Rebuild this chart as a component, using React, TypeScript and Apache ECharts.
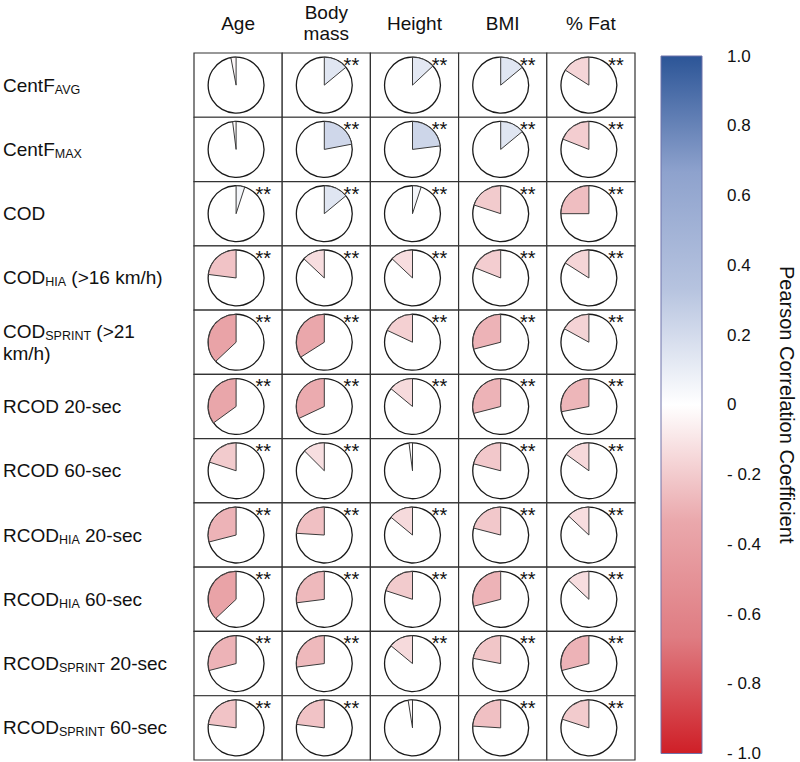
import React, { useEffect, useRef } from 'react';
import * as echarts from 'echarts';

const FONT = '"Liberation Sans", Arial, sans-serif';

const columns = ['Age', 'Body\nmass', 'Height', 'BMI', '% Fat'];

const rowLabels = [
  'CentF{s|AVG}',
  'CentF{s|MAX}',
  'COD',
  'COD{s|HIA} (>16 km/h)',
  'COD{s|SPRINT} (>21\nkm/h)',
  'RCOD 20-sec',
  'RCOD 60-sec',
  'RCOD{s|HIA} 20-sec',
  'RCOD{s|HIA} 60-sec',
  'RCOD{s|SPRINT} 20-sec',
  'RCOD{s|SPRINT} 60-sec',
];

// Pearson r per row (Age, Body mass, Height, BMI, % Fat)
const rCentFAvg = [-0.03, 0.14, 0.13, 0.14, -0.16];
const rCentFMax = [-0.02, 0.22, 0.23, 0.14, -0.19];
const rCod = [0.05, 0.14, 0.05, -0.2, -0.25];
const rCodHia = [-0.23, -0.13, -0.13, -0.19, -0.16];
const rCodSprint = [-0.37, -0.34, -0.18, -0.29, -0.17];
const rRcod20 = [-0.35, -0.32, -0.14, -0.29, -0.28];
const rRcod60 = [-0.2, -0.125, -0.02, -0.21, -0.15];
const rRcodHia20 = [-0.29, -0.24, -0.14, -0.21, -0.13];
const rRcodHia60 = [-0.37, -0.27, -0.2, -0.29, -0.13];
const rRcodSprint20 = [-0.29, -0.27, -0.14, -0.22, -0.29];
const rRcodSprint60 = [-0.23, -0.23, -0.025, -0.24, -0.2];

const values = [
  rCentFAvg, rCentFMax, rCod, rCodHia, rCodSprint, rRcod20,
  rRcod60, rRcodHia20, rRcodHia60, rRcodSprint20, rRcodSprint60,
];

// 1 = "**" shown
const signif = [
  [0, 1, 1, 1, 1],
  [0, 1, 1, 1, 1],
  [1, 1, 1, 1, 1],
  [1, 1, 1, 1, 1],
  [1, 1, 1, 1, 1],
  [1, 1, 1, 1, 1],
  [1, 1, 0, 1, 1],
  [1, 1, 1, 1, 1],
  [1, 1, 1, 1, 1],
  [1, 1, 1, 1, 1],
  [1, 1, 0, 1, 1],
];

const scaleMin = -1;
const scaleMax = 1;
const scaleStep = 0.2;
// evenly spaced colour stops from -1 to 1
const scaleColors = ['#cf1f27', '#df7c82', '#eaa8ac', '#ffffff', '#b6c3df', '#8ea2cd', '#2c5597'];

const colorbarTitle = 'Pearson Correlation Coefficient';

export default function App() {
  const ref = useRef<HTMLDivElement>(null);

  useEffect(() => {
    if (!ref.current) return;
    const chart = echarts.init(ref.current, undefined, { renderer: 'svg' });

    const cells: number[][] = [];
    values.forEach((row, i) =>
      row.forEach((v, j) => cells.push([j, i, v, signif[i][j]]))
    );

    const stops = scaleColors
      .slice()
      .reverse()
      .map((c, k) => ({ offset: k / (scaleColors.length - 1), color: c }));

    const option: any = {
      animation: false,
      backgroundColor: '#ffffff',
      textStyle: { fontFamily: FONT },
      grid: [
        { left: 193, top: 53, width: 442, height: 707 },
        { left: 661, top: 56, width: 41, height: 701 },
      ],
      visualMap: {
        show: false,
        type: 'continuous',
        seriesIndex: 0,
        dimension: 2,
        min: scaleMin,
        max: scaleMax,
        inRange: { color: scaleColors },
      },
      xAxis: [
        {
          type: 'category',
          gridIndex: 0,
          data: columns,
          position: 'top',
          axisLine: { show: false },
          axisTick: { show: false },
          splitLine: { show: false },
          axisLabel: {
            fontSize: 19,
            lineHeight: 21,
            color: '#111',
            margin: 30,
            verticalAlign: 'middle',
            fontFamily: FONT,
          },
        },
        { type: 'value', gridIndex: 1, min: 0, max: 1, show: false },
      ],
      yAxis: [
        {
          type: 'category',
          gridIndex: 0,
          data: rowLabels,
          inverse: true,
          axisLine: { show: false },
          axisTick: { show: false },
          splitLine: { show: false },
          axisLabel: {
            align: 'left',
            margin: 191,
            fontSize: 19,
            lineHeight: 22,
            color: '#111',
            fontFamily: FONT,
            rich: {
              s: {
                fontSize: 12.5,
                lineHeight: 22,
                verticalAlign: 'bottom',
                color: '#111',
                fontFamily: FONT,
              },
            },
          },
        },
        {
          type: 'value',
          gridIndex: 1,
          min: scaleMin,
          max: scaleMax,
          interval: scaleStep,
          position: 'right',
          axisLine: { show: false },
          splitLine: { show: false },
          axisTick: { show: true, length: 16, lineStyle: { color: '#9a9a9a', width: 1 } },
          axisLabel: {
            margin: 25,
            fontSize: 17,
            color: '#111',
            fontFamily: FONT,
            formatter: (v: number) => {
              const a = Math.round(v * 10) / 10;
              if (a === 0) return '0';
              if (a > 0) return a.toFixed(1);
              return '- ' + (-a).toFixed(1);
            },
          },
          name: colorbarTitle,
          nameLocation: 'middle',
          nameRotate: -90,
          nameGap: 75,
          nameTextStyle: { fontSize: 20, color: '#111', fontFamily: FONT },
        },
      ],
      series: [
        {
          type: 'custom',
          xAxisIndex: 0,
          yAxisIndex: 0,
          data: cells,
          renderItem: (params: any, api: any) => {
            const c = api.coord([api.value(0), api.value(1)]);
            const s = api.size([1, 1]);
            const w = s[0];
            const h = s[1];
            const r = api.value(2) as number;
            const sig = api.value(3) as number;
            const color = api.visual('color');
            const cx = c[0] - 2;
            const cy = c[1];
            const rad = h * 0.435;
            const top = -Math.PI / 2;
            const span = Math.abs(r) * Math.PI * 2;
            const start = r >= 0 ? top : top - span;
            const end = r >= 0 ? top + span : top;
            const children: any[] = [
              {
                type: 'rect',
                shape: { x: c[0] - w / 2, y: c[1] - h / 2, width: w, height: h },
                style: { fill: '#fff', stroke: '#333', lineWidth: 1.2 },
              },
              {
                type: 'circle',
                shape: { cx, cy, r: rad },
                style: { fill: '#fff', stroke: '#1a1a1a', lineWidth: 1.3 },
              },
              {
                type: 'sector',
                shape: { cx, cy, r: rad, r0: 0, startAngle: start, endAngle: end, clockwise: true },
                style: { fill: color, stroke: '#3a3a3a', lineWidth: 1 },
              },
            ];
            if (sig) {
              children.push({
                type: 'text',
                x: c[0] + w / 2 - 19,
                y: c[1] - h / 2 + 12,
                style: {
                  text: '**',
                  fontSize: 20,
                  fontFamily: FONT,
                  fill: '#111',
                  align: 'center',
                  verticalAlign: 'middle',
                },
              });
            }
            return { type: 'group', children };
          },
        },
        {
          type: 'custom',
          xAxisIndex: 1,
          yAxisIndex: 1,
          data: [[0, scaleMin, 1, scaleMax]],
          renderItem: (params: any, api: any) => {
            const p0 = api.coord([api.value(0), api.value(3)]);
            const p1 = api.coord([api.value(2), api.value(1)]);
            return {
              type: 'rect',
              shape: { x: p0[0], y: p0[1], width: p1[0] - p0[0], height: p1[1] - p0[1] },
              style: {
                fill: new echarts.graphic.LinearGradient(0, 0, 0, 1, stops),
                stroke: '#6f73aa',
                lineWidth: 1,
              },
            };
          },
        },
      ],
    };

    chart.setOption(option);
    return () => chart.dispose();
  }, []);

  return (
    <div
      ref={ref}
      style={{ position: 'fixed', left: 0, top: 0, width: 800, height: 762, background: '#fff' }}
    />
  );
}
